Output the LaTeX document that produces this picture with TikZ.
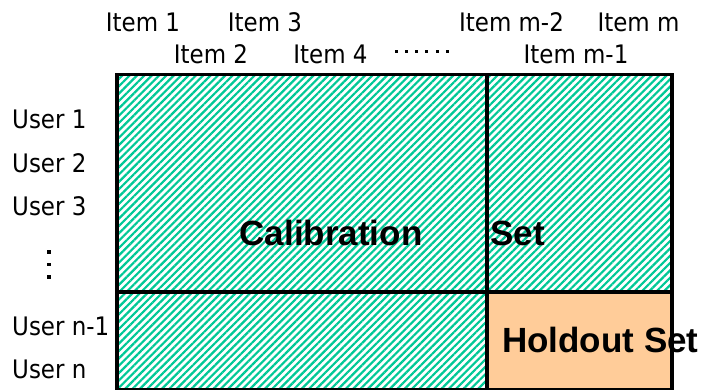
\documentclass[tikz,border=0pt]{standalone}
\usepackage{fontspec}
\setmainfont{Liberation Sans}
\newfontfamily\labelfont{DejaVu Sans Condensed}
\usetikzlibrary{patterns.meta}
\definecolor{hatchgreen}{RGB}{0,200,150}
\definecolor{holdoutfill}{RGB}{255,204,153}

\begin{document}
\begin{tikzpicture}[x=1pt,y=-1pt,
  lbl/.style={font=\labelfont\fontsize{25.5}{25.5}\selectfont, anchor=base, inner sep=0pt},
  userlbl/.style={lbl, anchor=base west},
  big/.style={font=\bfseries\fontsize{35}{35}\selectfont, anchor=base, inner sep=0pt},
  frame/.style={line width=3.6pt},
  hatched/.style={pattern={Lines[angle=45,distance=5.2pt,line width=2.2pt]}, pattern color=hatchgreen},
  dotmark/.style={fill=black, minimum size=3pt, inner sep=0pt, draw=none}]
\useasboundingbox (0,0) rectangle (705,389);

% corners of the rating matrix and its split lines
\coordinate (tl) at (117,74.5);
\coordinate (br) at (672,390);
\coordinate (splitx) at (487,74.5);
\coordinate (splity) at (117,292);
\coordinate (hold) at (487,292);

% hatched calibration area and the holdout block
\fill[hatched] (tl) rectangle (br);
\fill[holdoutfill] (hold) rectangle (br);

% outline and split lines
\draw[frame] (tl) rectangle (br);
\draw[frame] (splitx) -- (splitx |- br);
\draw[frame] (splity) -- (br |- splity);

% item labels along the top
\node[lbl] (i1) at (143,31.7) {Item 1};
\node[lbl] (i3) at (265,31.7) {Item 3};
\node[lbl] (im2) at (511.5,31.7) {Item m-2};
\node[lbl] (im) at (638.5,31.7) {Item m};
\node[lbl] (i2) at (211,63.3) {Item 2};
\node[lbl] (i4) at (330.5,63.3) {Item 4};
\node[lbl] (im1) at (576,63.3) {Item m-1};
\foreach \k in {0,...,5}
  \node[dotmark] (hd\k) at (396+10.3*\k,51.5) {};

% user labels down the left side
\node[userlbl] (u1) at (12,128) {User 1};
\node[userlbl] (u2) at (12,172) {User 2};
\node[userlbl] (u3) at (12,215) {User 3};
\node[userlbl] (un1) at (12,335) {User n-1};
\node[userlbl] (un) at (12,378) {User n};
\foreach \k/\yy in {0/252,1/264.5,2/277}
  \node[dotmark, minimum size=3.5pt] (vd\k) at (49,\yy) {};

% region names
\node[big] (cal) at (331,245) {Calibration};
\node[big, anchor=base west] (set) at (490,245) {Set};
\node[big, anchor=base west] (hos) at (502,352) {Holdout Set};
\end{tikzpicture}
\end{document}
